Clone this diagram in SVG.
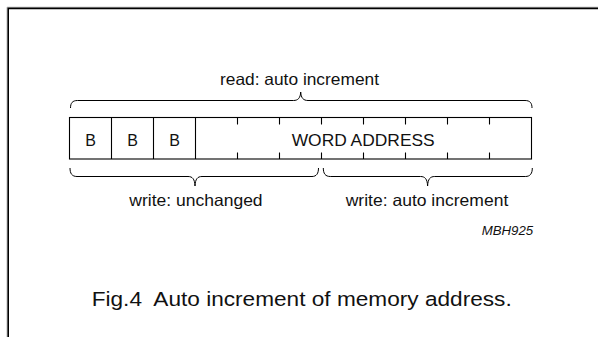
<svg xmlns="http://www.w3.org/2000/svg" width="598" height="337" viewBox="0 0 598 337">
<style>
  .ln { fill: none; stroke: #000; stroke-width: 1.1; }
  .br { fill: none; stroke: #000; stroke-width: 1; }
  .t { font-family: "Liberation Sans", Arial, sans-serif; fill: #111; }
  .lbl { font-size: 16.5px; }
  .cell { font-size: 16px; text-anchor: middle; }
</style>
<rect width="598" height="337" fill="#fff"/>
<g id="frame">
  <path d="M7,337 V7.2 H598" fill="none" stroke="#bbb" stroke-width="1"/>
  <path d="M8.2,337 V8.4 H598" fill="none" stroke="#000" stroke-width="1.6"/>
</g>
<g id="register">
  <rect class="ln" x="69.5" y="117.5" width="462" height="41.5"/>
  <path class="ln" d="M111.5,117.5 V159 M153.5,117.5 V159 M195.5,117.5 V159"/>
  <path class="ln" d="M237.5,117.5 V124.5 M279.5,117.5 V124.5 M321.5,117.5 V124.5 M363.5,117.5 V124.5 M405.5,117.5 V124.5 M447.5,117.5 V124.5 M489.5,117.5 V124.5"/>
  <path class="ln" d="M237.5,152.5 V159 M279.5,152.5 V159 M321.5,152.5 V159 M363.5,152.5 V159 M405.5,152.5 V159 M447.5,152.5 V159 M489.5,152.5 V159"/>
  <text class="t cell" x="90.5" y="145.5">B</text>
  <text class="t cell" x="132.5" y="145.5">B</text>
  <text class="t cell" x="174.5" y="145.5">B</text>
  <text class="t" x="291.7" y="146" font-size="16.5" textLength="143" lengthAdjust="spacingAndGlyphs">WORD ADDRESS</text>
</g>
<g id="connectors">
  <path id="brace-read" class="br" d="M70.5,108 C70.5,103 72.5,100.5 77.5,100.5 L293.5,100.5 C298,100.5 300.4,98 300.7,92 C301,98 303.4,100.5 308,100.5 L525,100.5 C530,100.5 532,103 532,108"/>
  <path id="brace-unchanged" class="br" d="M70,168 C70,173.5 72,176.5 77,176.5 L188,176.5 C192.5,176.5 194.7,179 195,186 C195.3,179 197.5,176.5 202,176.5 L312,176.5 C316.5,176.5 318.5,173.5 318.5,168"/>
  <path id="brace-auto" class="br" d="M323.3,168 C323.3,173.5 325.3,176.5 330.3,176.5 L420.5,176.5 C425,176.5 427.3,179 427.6,186 C427.9,179 430.2,176.5 434.7,176.5 L525.3,176.5 C530.3,176.5 532.3,173.5 532.3,168"/>
</g>
<g id="labels">
  <text id="lbl-read" class="t lbl" x="220" y="84.5" textLength="159" lengthAdjust="spacingAndGlyphs">read: auto increment</text>
  <text id="lbl-unchanged" class="t lbl" x="129.3" y="205.5" textLength="133.3" lengthAdjust="spacingAndGlyphs">write: unchanged</text>
  <text id="lbl-auto" class="t lbl" x="345.7" y="205.5" textLength="162.6" lengthAdjust="spacingAndGlyphs">write: auto increment</text>
  <text id="code" class="t" x="481.7" y="235" font-size="12.5" font-style="italic" textLength="51.5" lengthAdjust="spacingAndGlyphs">MBH925</text>
  <text id="caption" class="t" x="91.7" y="306" font-size="20.5" textLength="420" lengthAdjust="spacingAndGlyphs" xml:space="preserve">Fig.4  Auto increment of memory address.</text>
</g>
</svg>
